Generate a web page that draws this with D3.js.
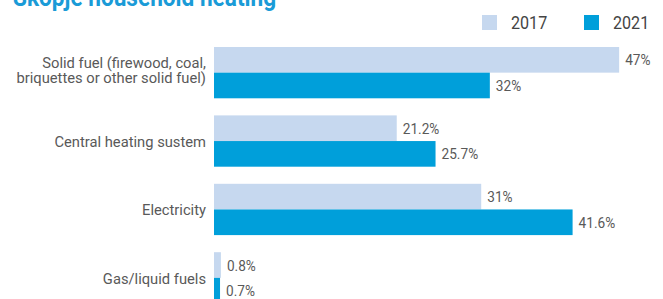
<!DOCTYPE html>
<html>
<head>
<meta charset="utf-8">
<script src="https://cdn.jsdelivr.net/npm/d3@7"></script>
<style>
  body { margin: 0; background: #fff; }
  svg { display: block; font-family: Roboto, "Noto Sans", sans-serif; }
</style>
</head>
<body>
<svg id="chart" width="663" height="299"></svg>
<script>
// Chart data
const categories = [
  "Solid fuel (firewood, coal,\nbriquettes or other solid fuel)",
  "Central heating sustem",
  "Electricity",
  "Gas/liquid fuels"
];
const seriesNames = ["2017", "2021"];
const values2017 = [47, 21.2, 31, 0.8];
const values2021 = [32, 25.7, 41.6, 0.7];
const colors = ["#c6d8ef", "#009fda"];
const title = "Skopje household heating";

const svg = d3.select("#chart");

// condensed look: squeeze text horizontally
function condense(sel, k) {
  sel.each(function() {
    const len = this.getComputedTextLength();
    d3.select(this).attr("textLength", len * k).attr("lengthAdjust", "spacingAndGlyphs");
  });
}

const rows = categories.map((c, i) => ({
  key: c,
  values: [
    { series: "2017", value: values2017[i] },
    { series: "2021", value: values2021[i] }
  ]
}));

/**
 * Scales
 */
let x = d3.scaleLinear().domain([0, 50]).range([214, 645]);
let y0 = d3.scaleBand().domain(categories).range([47, 303.5]).paddingInner(0.25).paddingOuter(0);
let y1 = d3.scaleBand().domain(seriesNames).range([0, y0.bandwidth()]);
let colorScale = d3.scaleOrdinal().domain(seriesNames).range(colors);

// Title (partly cut off at top)
svg.append("text")
  .attr("x", 13)
  .attr("y", 5.5)
  .attr("fill", "#1a9bd7")
  .style("font-size", "26px")
  .style("font-weight", "bold")
  .text(title)
  .call(condense, 0.87);

// Legend
const legend = svg.append("g").selectAll("g")
  .data(seriesNames)
  .enter().append("g")
  .attr("transform", (d, i) => "translate(" + (482 + i * 102) + ",15)");

legend.append("rect")
  .attr("width", 15)
  .attr("height", 15)
  .attr("fill", d => colorScale(d));

legend.append("text")
  .attr("x", 29)
  .attr("y", 14)
  .attr("fill", "#444")
  .style("font-size", "18.5px")
  .text(d => d)
  .call(condense, 0.87);

// Groups
const group = svg.append("g").selectAll(".cat")
  .data(rows)
  .enter().append("g")
  .attr("class", "cat")
  .attr("transform", d => "translate(0," + y0(d.key) + ")");

group.selectAll("rect")
  .data(d => d.values)
  .enter().append("rect")
  .attr("x", x(0))
  .attr("y", d => y1(d.series))
  .attr("width", d => x(d.value) - x(0))
  .attr("height", y1.bandwidth())
  .attr("fill", d => colorScale(d.series));

group.selectAll(".val")
  .data(d => d.values)
  .enter().append("text")
  .attr("class", "val")
  .attr("x", d => x(d.value) + 6)
  .attr("y", d => y1(d.series) + y1.bandwidth() / 2 + 5.5)
  .attr("fill", "#595959")
  .style("font-size", "15.5px")
  .text(d => d.value + "%")
  .call(condense, 0.88);

// Category labels
const lineHeight = 15.5;
group.each(function(d) {
  const lines = d.key.split("\n");
  const mid = y0.bandwidth() / 2;
  const shift = lines.length > 1 ? -3 : 0;
  d3.select(this).selectAll(".lbl")
    .data(lines)
    .enter().append("text")
    .attr("class", "lbl")
    .attr("x", 206)
    .attr("y", (l, i) => mid + 6 + shift + (i - (lines.length - 1) / 2) * lineHeight)
    .attr("text-anchor", "end")
    .attr("fill", "#595959")
    .style("font-size", "15.5px")
    .text(l => l)
    .call(condense, 0.95);
});
</script>
</body>
</html>
